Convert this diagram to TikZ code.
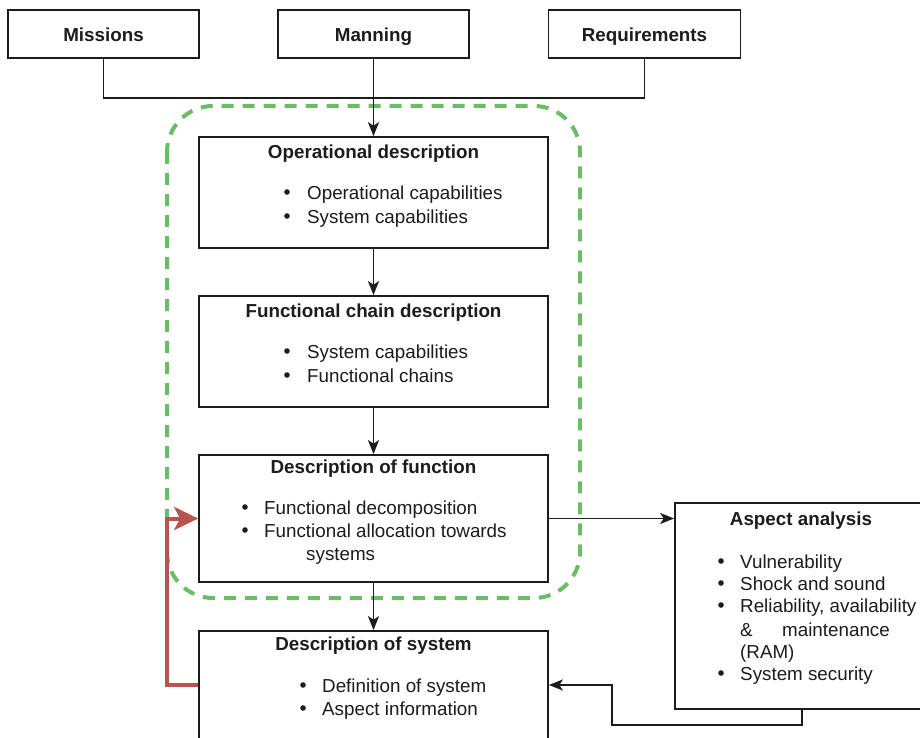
\documentclass[tikz,border=0pt]{standalone}
\usepackage{fontspec}
\setmainfont{Liberation Sans}
\usetikzlibrary{arrows.meta}
\definecolor{ink}{RGB}{28,28,28}
\definecolor{groupgreen}{RGB}{106,189,100}
\definecolor{loopred}{RGB}{184,84,80}
\begin{document}
\begin{tikzpicture}[x=1pt,y=-1pt,
  font=\fontsize{18.8}{22.5}\selectfont,
  box/.style={draw=ink,line width=1.7pt,fill=white,inner sep=0pt},
  title/.style={text=ink,font=\fontsize{18.8}{22.5}\selectfont\bfseries,inner sep=0pt,
    text height=13.6pt,text depth=4pt,yshift=-3pt},
  item/.style={text=ink,inner sep=0pt,anchor=west,text height=13.6pt,text depth=4pt,yshift=-3pt},
  dot/.style={fill=ink},
  link/.style={draw=ink,line width=1.6pt},
  flow/.style={link,-{Stealth[length=14pt,width=11pt,inset=3.5pt]}},
  loop/.style={draw=loopred,line width=4pt,-{Stealth[length=24pt,width=23pt,inset=6pt]}},
  group/.style={draw=groupgreen,line width=4pt,dash pattern=on 12pt off 9pt,rounded corners=46pt}]

\useasboundingbox (0,0) rectangle (920,738);
\clip (0,0) rectangle (920,738);
\fill[white] (0,0) rectangle (920,738);

% dashed grouping of the three description stages
\draw[group] (167,106) rectangle (580,598);

% inputs
\node[box,minimum width=191pt,minimum height=48pt] (mis) at (103.5,34) {};
\node[box,minimum width=191pt,minimum height=48pt] (man) at (373.5,34) {};
\node[box,minimum width=192pt,minimum height=48pt] (req) at (644.5,34) {};
\node[title] (misT) at (mis.center) {Missions};
\node[title] (manT) at (man.center) {Manning};
\node[title] (reqT) at (req.center) {Requirements};

% description stages
\node[box,minimum width=349pt,minimum height=111pt] (op) at (373.5,192.5) {};
\node[box,minimum width=349pt,minimum height=111pt] (fc) at (373.5,351.5) {};
\node[box,minimum width=349pt,minimum height=127pt] (fun) at (373.5,518.5) {};
\node[box,minimum width=349pt,minimum height=108pt] (sys) at (373.5,685) {};
\node[box,minimum width=254pt,minimum height=206pt] (asp) at (802,606) {};

% Operational description
\node[title] (opT) at (373.5,151) {Operational description};
\fill[dot] (287,192) circle (2.8pt) (287,216) circle (2.8pt);
\node[item] (op1) at (307,192) {Operational capabilities};
\node[item] (op2) at (307,216) {System capabilities};

% Functional chain description
\node[title] (fcT) at (373.5,310) {Functional chain description};
\fill[dot] (287,351) circle (2.8pt) (287,375) circle (2.8pt);
\node[item] (fc1) at (307,351) {System capabilities};
\node[item] (fc2) at (307,375) {Functional chains};

% Description of function
\node[title] (funT) at (373.5,466) {Description of function};
\fill[dot] (245,507) circle (2.8pt) (245,530) circle (2.8pt);
\node[item] (fun1) at (264,507) {Functional decomposition};
\node[item] (fun2) at (264,530) {Functional allocation towards};
\node[item] (fun3) at (306,553) {systems};

% Description of system
\node[title] (sysT) at (373.5,643) {Description of system};
\fill[dot] (303,685) circle (2.8pt) (303,708) circle (2.8pt);
\node[item] (sys1) at (322,685) {Definition of system};
\node[item] (sys2) at (322,708) {Aspect information};

% Aspect analysis
\node[title] (aspT) at (801,518) {Aspect analysis};
\fill[dot] (721,561) circle (2.8pt) (721,583) circle (2.8pt) (721,605) circle (2.8pt)
  (721,673) circle (2.8pt);
\node[item] (asp1) at (740,561) {Vulnerability};
\node[item] (asp2) at (740,583) {Shock and sound};
\node[item] (asp3) at (740,605) {Reliability, availability};
\node[item] (asp4a) at (740,629) {\&};
\node[item] (asp4b) at (782,629) {maintenance};
\node[item] (asp5) at (740,651) {(RAM)};
\node[item] (asp6) at (740,673) {System security};

% connectors
\draw[link] (mis.south) -- (mis.south |- 0,98) -- (req.south |- 0,98) -- (req.south);
\draw[flow] (man.south) -- (op.north);
\draw[flow] (op.south) -- (fc.north);
\draw[flow] (fc.south) -- (fun.north);
\draw[flow] (fun.south) -- (sys.north);
\draw[flow] (fun.east) -- (fun.east -| asp.west);
\draw[flow] (asp.south) -- (802,725) -- (612,725) -- (612,685) -- (sys.east);
\draw[loop] (sys.west) -- (167,685) -- (167,518.5) -- (fun.west);
\end{tikzpicture}
\end{document}
